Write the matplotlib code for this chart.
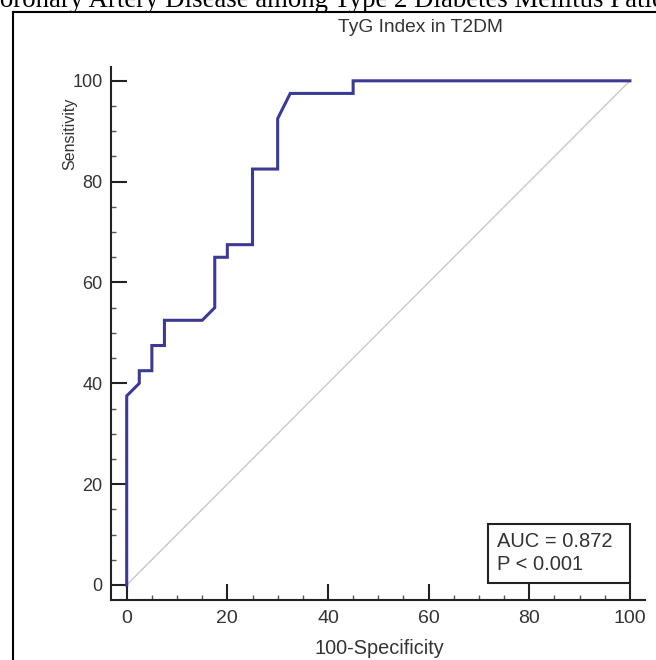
import numpy as np
import matplotlib.pyplot as plt
from matplotlib.lines import Line2D
from matplotlib.patches import Rectangle
from matplotlib.ticker import MultipleLocator

# ROC curve points (100-Specificity, Sensitivity)
fpr = [0, 0, 2.5, 2.5, 5, 5, 7.5, 7.5, 15, 17.5, 17.5, 20, 20, 25, 25, 30, 30, 32.5, 45, 45, 100]
tpr = [0, 37.5, 40, 42.5, 42.5, 47.5, 47.5, 52.5, 52.5, 55, 65, 65, 67.5, 67.5, 82.5, 82.5, 92.5, 97.5, 97.5, 100, 100]
ticks = [0, 20, 40, 60, 80, 100]
auc_text = "AUC = 0.872"
p_text = "P < 0.001"
title = "TyG Index in T2DM"
caption = "Coronary Artery Disease among Type 2 Diabetes Mellitus Patients"

W, H = 656, 660
fig = plt.figure(figsize=(W / 100, H / 100), dpi=100)
plt.rcParams['font.family'] = ['Liberation Sans', 'DejaVu Sans']

ax = fig.add_axes([110.7 / W, 60 / H, (645 - 110.7) / W, (600 - 66.7) / H])
ax.set_xlim(-3.18, 103.0)
ax.set_ylim(-2.98, 102.8)

# diagonal reference line and ROC curve
ax.plot([0, 100], [0, 100], color="#c9c9c9", lw=1.0, zorder=1)
ax.plot(fpr, tpr, color="#3b3b96", lw=2.2, solid_joinstyle="miter", zorder=3, clip_on=False)

for s in ["top", "right"]:
    ax.spines[s].set_visible(False)
for s in ["left", "bottom"]:
    ax.spines[s].set_linewidth(1.5)
    ax.spines[s].set_color("#222222")

ax.set_xticks(ticks)
ax.set_yticks(ticks)
ax.xaxis.set_minor_locator(MultipleLocator(5))
ax.yaxis.set_minor_locator(MultipleLocator(5))
ax.tick_params(which="major", direction="in", length=11.5, width=1.5, color="#222222", labelcolor="#333333")
ax.tick_params(which="minor", direction="in", length=3.5, width=1.0, color="#555555")
ax.tick_params(axis="x", which="major", labelsize=14, pad=7)
ax.tick_params(axis="y", which="major", labelsize=13, pad=5.8)

# axis labels
fig.text(70 / W, 1 - 133.5 / H, "Sensitivity", rotation=90, ha="center", va="center",
         fontsize=11.5, color="#333333")
fig.text(379 / W, 1 - 648 / H, "100-Specificity", ha="center", va="center",
         fontsize=14.3, color="#333333")
fig.text(420 / W, 1 - 27 / H, title, ha="center", va="center", fontsize=13.8, color="#333333")

# AUC box
fig.patches.append(Rectangle((487.7 / W, 1 - 583.3 / H), 142.3 / W, 59.3 / H,
                             transform=fig.transFigure, fill=False, lw=1.5, ec="#222222"))
fig.text(497 / W, 1 - 541.7 / H, auc_text, ha="left", va="center", fontsize=14.5, color="#333333")
fig.text(497 / W, 1 - 565 / H, p_text, ha="left", va="center", fontsize=14.5, color="#333333")

# outer frame and cropped caption
fig.add_artist(Line2D([12.5 / W, 12.5 / W], [0, 1 - 12.3 / H], color="black", lw=1.5))
fig.add_artist(Line2D([12.5 / W, 1], [1 - 12.3 / H, 1 - 12.3 / H], color="black", lw=1.5))
fig.text(-18 / W, 1 - 7 / H, caption, ha="left", va="baseline", fontsize=19.3,
         family=["Liberation Serif", "DejaVu Serif"], color="black")

fig.savefig("out.png", dpi=100)
